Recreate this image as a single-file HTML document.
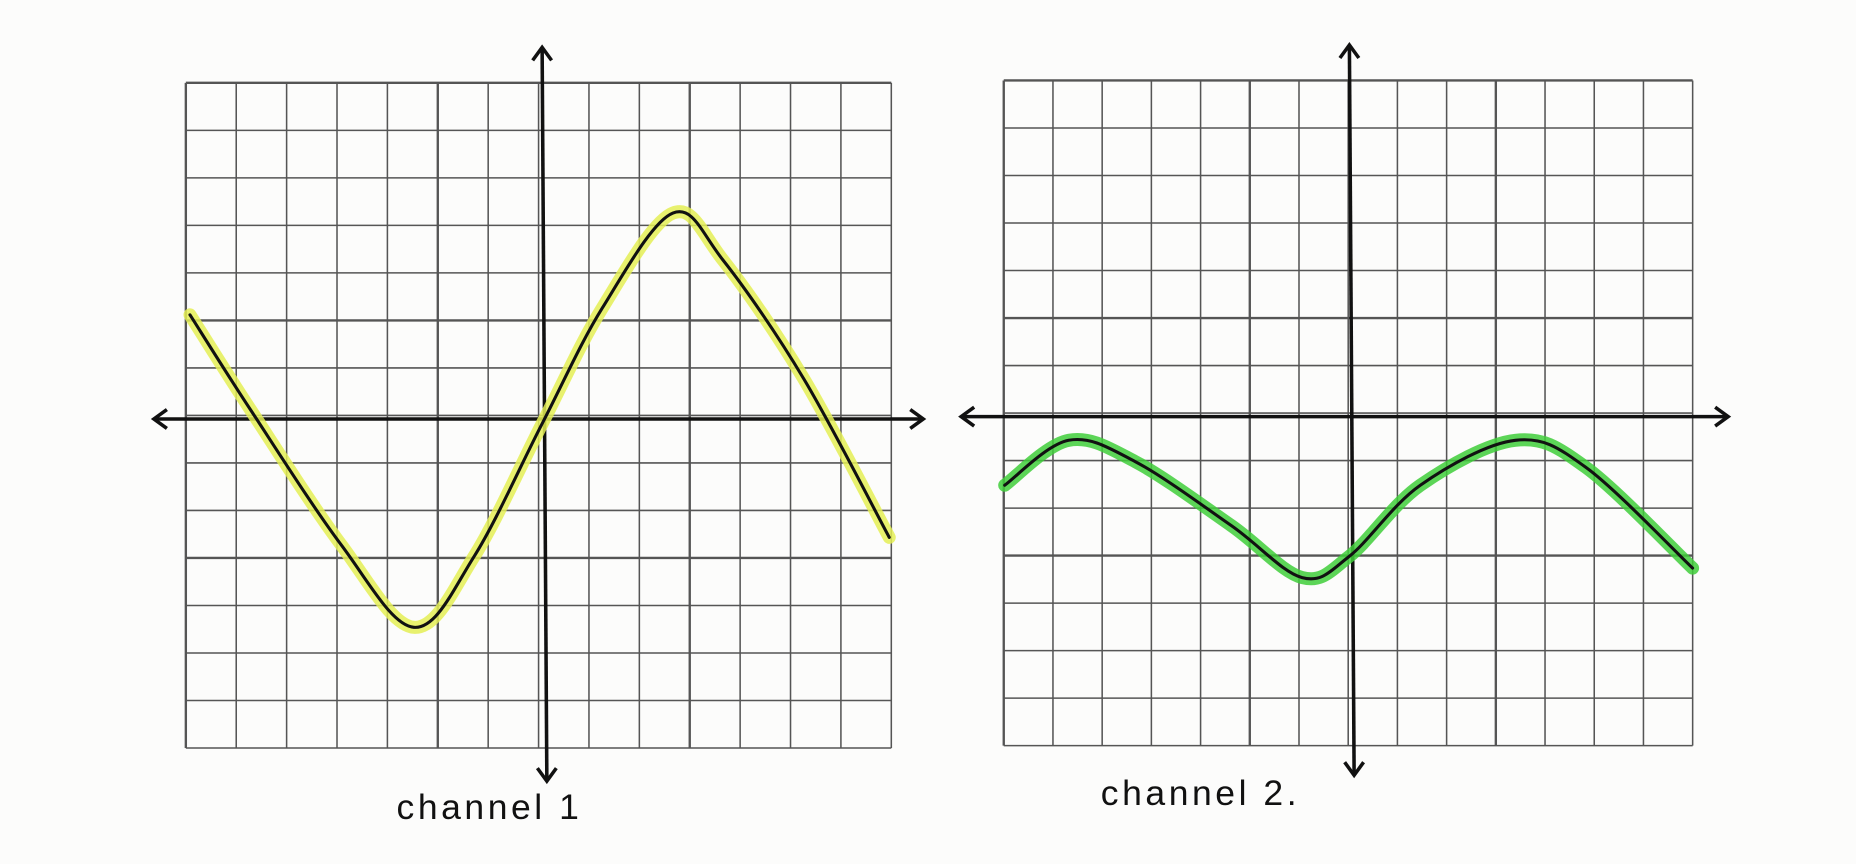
<!DOCTYPE html>
<html><head><meta charset="utf-8"><style>
html,body{margin:0;padding:0;background:#fcfcfb;}
svg{display:block;}
</style></head><body>
<svg id="chart" width="1856" height="864" viewBox="0 0 1568 730" preserveAspectRatio="none" xmlns="http://www.w3.org/2000/svg">
<rect x="0" y="0" width="1568" height="730" fill="#fcfcfb"/>
<g id="g1"></g>
<g id="g2"></g>
<text x="335" y="692" font-family="Liberation Sans, sans-serif" font-size="30" fill="#111" letter-spacing="3">channel 1</text>
<text x="930" y="680" font-family="Liberation Sans, sans-serif" font-size="30" fill="#111" letter-spacing="3">channel 2.</text>
</svg>
<script>
const ch1X = [-7, -5.8, -4, -2.55, -1.35, 0, 1.2, 2.6, 3.6, 5.2, 6.9];
const ch1Y = [2.2, 0.2, -2.65, -4.4, -2.9, -0.1, 2.35, 4.35, 3.35, 0.85, -2.5];
const ch2X = [-7, -5.7, -4.35, -2.4, -0.96, 0, 1.44, 3.37, 4.8, 6.97];
const ch2Y = [-1.45, -0.5, -0.95, -2.3, -3.4, -2.95, -1.45, -0.5, -1.07, -3.2];

const NS = 'http://www.w3.org/2000/svg';
function mk(tag, attrs, parent){const e=document.createElementNS(NS,tag);for(const k in attrs)e.setAttribute(k,attrs[k]);parent.appendChild(e);return e;}
function smooth(pts){
  let d='M'+pts[0][0]+','+pts[0][1];
  for(let i=0;i<pts.length-1;i++){
    const p0=pts[Math.max(0,i-1)],p1=pts[i],p2=pts[i+1],p3=pts[Math.min(pts.length-1,i+2)];
    const c1=[p1[0]+(p2[0]-p0[0])/6,p1[1]+(p2[1]-p0[1])/6];
    const c2=[p2[0]-(p3[0]-p1[0])/6,p2[1]-(p3[1]-p1[1])/6];
    d+=' C'+c1+' '+c2+' '+p2;
  }
  return d;
}
function panel(g, cfg, xs, ys, hl, name){
  const sx=v=>cfg.ox+v*cfg.ux, sy=v=>cfg.oy-v*cfg.uy;
  for(let i=0;i<=14;i++){
    const x=cfg.x0+i*(cfg.x1-cfg.x0)/14;
    const l=mk('line',{x1:x,y1:cfg.y0,x2:x,y2:cfg.y1,stroke:'#555',"stroke-width":(i%5==0?2:1.3)},g);
    
    
    const y=cfg.y0+i*(cfg.y1-cfg.y0)/14;
    const h=mk('line',{x1:cfg.x0,y1:y,x2:cfg.x1,y2:y,stroke:'#555',"stroke-width":(i%5==0?2:1.3)},g);
    
    
  }
  const xa=mk('line',{x1:cfg.ax0,y1:cfg.oy,x2:cfg.ax1,y2:cfg.oy,stroke:'#111',"stroke-width":3},g);
  
  
  const ya=mk('line',{x1:cfg.ox,y1:cfg.ay0,x2:cfg.ox+4,y2:cfg.ay1,stroke:'#111',"stroke-width":3},g);
  
  
  const arrows=[[cfg.ax0,cfg.oy,1,0],[cfg.ax1,cfg.oy,-1,0],[cfg.ox,cfg.ay0,0,1],[cfg.ox+4,cfg.ay1,0,-1]];
  arrows.forEach(a=>{
    const [x,y,dx,dy]=a;
    const p=mk('polyline',{points:`${x+dx*11+dy*8},${y+dy*11+dx*8} ${x},${y} ${x+dx*11-dy*8},${y+dy*11-dx*8}`,fill:'none',stroke:'#111',"stroke-width":3},g);
    
    
  });
  const pts=xs.map((v,i)=>[sx(v),sy(ys[i])]);
  const h=mk('path',{d:smooth(pts),fill:'none',stroke:hl,"stroke-width":11,"stroke-linecap":'round',opacity:0.85},g);
  
  
  const c=mk('path',{d:smooth(pts),fill:'none',stroke:'#111',"stroke-width":2.6,"stroke-linecap":'round'},g);
  
  
}
panel(document.getElementById('g1'),{x0:157,x1:753,y0:70,y1:632,ox:458,oy:354,ux:42.5,uy:40,ax0:130,ax1:780,ay0:40,ay1:660},ch1X,ch1Y,'#e4ee55','channel-1');
panel(document.getElementById('g2'),{x0:848,x1:1430,y0:68,y1:630,ox:1140,oy:352,ux:41.6,uy:40,ax0:812,ax1:1460,ay0:38,ay1:655},ch2X,ch2Y,'#3fce3a','channel-2');
</script>
</body></html>
